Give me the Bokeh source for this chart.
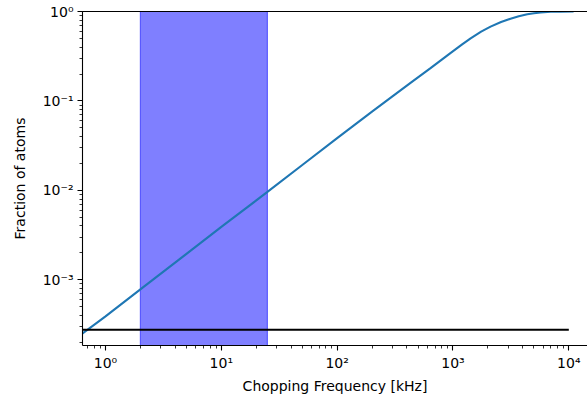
from bokeh.plotting import figure
from bokeh.models import LogAxis, BoxAnnotation, CustomJSTickFormatter, LogTicker, FixedTicker
from bokeh.embed import file_html
from bokeh.resources import INLINE

# Data
freq_khz = [0.63, 1, 2, 5, 10, 25, 50, 100, 200, 300, 430, 640, 950, 1200,
            1420, 1750, 2110, 2600, 3140, 3700, 4380, 5000, 5710, 7000, 8500,
            11000]
fraction = [2.5e-4, 3.9e-4, 7.8e-4, 1.95e-3, 3.9e-3, 9.6e-3, 0.0192, 0.0384,
            0.076, 0.1126, 0.159, 0.233, 0.343, 0.429, 0.501, 0.595, 0.678,
            0.764, 0.831, 0.885, 0.93, 0.955, 0.975, 0.992, 0.998, 1.0]
threshold_x = [0.63, 10000]
threshold_y = [2.76e-4, 2.76e-4]
band_khz = [2.0, 25.0]

x_limits = (0.633, 14500)
y_limits = (1.84e-4, 1.0)

FONT = "DejaVu Sans"

p = figure(width=587, height=398, x_axis_type="log", y_axis_type="log",
           x_range=x_limits, y_range=y_limits,
           output_backend="svg", toolbar_location=None,
           min_border_left=82, min_border_right=0, min_border_top=11,
           min_border_bottom=53)
p.outline_line_color = None
p.grid.visible = False
p.background_fill_color = "white"
p.border_fill_color = "white"

fmt_code = """
const sup = {"0":"\u2070","1":"\u00b9","2":"\u00b2","3":"\u00b3","4":"\u2074",
             "5":"\u2075","6":"\u2076","7":"\u2077","8":"\u2078","9":"\u2079","-":"\u207b"};
const e = Math.round(Math.log10(tick));
return "10" + String(e).split("").map(c => sup[c]).join("");
"""

band = BoxAnnotation(left=band_khz[0], right=band_khz[1],
                     fill_color="blue", fill_alpha=0.5,
                     line_color="blue", line_alpha=0.5, line_width=1.2,
                     level="underlay")
p.add_layout(band)

p.line(freq_khz, fraction, line_color="#1f77b4", line_width=2.1)
p.line(threshold_x, threshold_y, line_color="black", line_width=2.1)

for ax in (p.xaxis[0], p.yaxis[0]):
    ax.ticker = LogTicker(num_minor_ticks=10)
    ax.formatter = CustomJSTickFormatter(code=fmt_code)
    ax.axis_line_color = "black"
    ax.axis_line_width = 1.1
    ax.major_tick_line_color = "black"
    ax.minor_tick_line_color = "black"
    ax.major_tick_line_width = 1.1
    ax.minor_tick_line_width = 0.8
    ax.major_tick_in = 0
    ax.major_tick_out = 5
    ax.minor_tick_in = 0
    ax.minor_tick_out = 3
    ax.major_label_standoff = 4
    ax.major_label_text_font = FONT
    ax.major_label_text_font_size = "14px"
    ax.major_label_text_color = "black"
    ax.axis_label_text_font = FONT
    ax.axis_label_text_font_size = "14px"
    ax.axis_label_text_font_style = "normal"
    ax.axis_label_text_color = "black"

p.xaxis.axis_label = "Chopping Frequency [kHz]"
p.yaxis.axis_label = "Fraction of atoms"
p.xaxis.axis_label_standoff = 4
p.yaxis.axis_label_standoff = 12

top = LogAxis(ticker=FixedTicker(ticks=[]), axis_line_color="black",
              axis_line_width=1.1,
              major_tick_line_color=None, minor_tick_line_color=None,
              major_label_standoff=0, major_tick_out=0, minor_tick_out=0)
p.add_layout(top, "above")

open("out.html", "w").write(file_html(p, INLINE))
